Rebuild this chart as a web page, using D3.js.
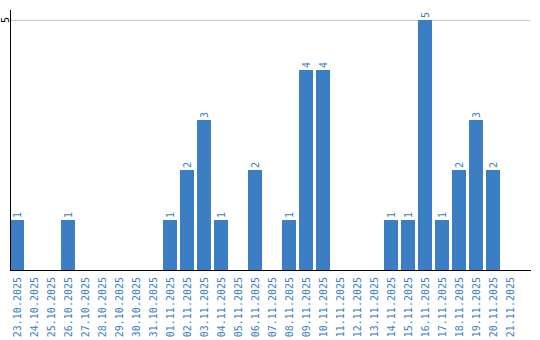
<!DOCTYPE html>
<html><head><meta charset="utf-8">
<script src="https://cdn.jsdelivr.net/npm/d3@7"></script>
<style>body{margin:0;background:#fff}svg{display:block}</style>
</head><body>
<script>
const dates = ["23.10.2025","24.10.2025","25.10.2025","26.10.2025","27.10.2025","28.10.2025","29.10.2025","30.10.2025","31.10.2025","01.11.2025","02.11.2025","03.11.2025","04.11.2025","05.11.2025","06.11.2025","07.11.2025","08.11.2025","09.11.2025","10.11.2025","11.11.2025","12.11.2025","13.11.2025","14.11.2025","15.11.2025","16.11.2025","17.11.2025","18.11.2025","19.11.2025","20.11.2025","21.11.2025"];
const counts = [1,0,0,1,0,0,0,0,0,1,2,3,1,0,2,0,1,4,4,0,0,0,1,1,5,1,2,3,2,0];
const yTicks = [5];

const W = 540, H = 340;
const mLeft = 10, mRight = 530, mTop = 10, base = 270;
const blue = "#3b7ec3";
const font = "DejaVu Sans Mono";
const svg = d3.select("body").append("svg").attr("width", W).attr("height", H);

const x = d3.scaleBand().domain(dates).range([mLeft, mLeft + 17*30 - 3]).paddingInner(3/17).paddingOuter(0);
const y = d3.scaleLinear().domain([0, 5]).range([base, 20]);

// gridlines
svg.selectAll("line.grid").data(yTicks).join("line")
  .attr("x1", mLeft).attr("x2", mRight)
  .attr("y1", d => y(d) + 0.5).attr("y2", d => y(d) + 0.5)
  .attr("stroke", "#c8c8c8").attr("stroke-width", 1);

const rows = dates.map((d,i)=>({d, v: counts[i]})).filter(o=>o.v>0);

// bars
svg.selectAll("rect.bar").data(rows).join("rect")
  .attr("x", o => x(o.d)).attr("width", x.bandwidth())
  .attr("y", o => y(o.v)).attr("height", o => base - y(o.v))
  .attr("fill", blue);

// value labels
svg.selectAll("text.val").data(rows).join("text")
  .attr("transform", o => `translate(${x(o.d) + x.bandwidth()/2},${y(o.v) - 2}) rotate(-90)`)
  .attr("dy", "0.35em")
  .attr("text-anchor", "start")
  .attr("font-family", font).attr("font-size", 10)
  .attr("fill", blue).text(o => o.v);

// x tick labels
svg.selectAll("text.xl").data(dates).join("text")
  .attr("transform", d => `translate(${x(d) + x.bandwidth()/2},${base + 7}) rotate(-90)`)
  .attr("dy", "0.35em")
  .attr("text-anchor", "end")
  .attr("font-family", font).attr("font-size", 10)
  .attr("fill", blue).text(d => d);

// y tick labels
svg.selectAll("text.yl").data(yTicks).join("text")
  .attr("transform", d => `translate(5,${y(d)}) rotate(-90)`)
  .attr("dy", "0.35em")
  .attr("text-anchor", "middle")
  .attr("font-family", font).attr("font-size", 10)
  .attr("fill", "#000").text(d => d);

// axes lines
svg.append("line").attr("x1", mLeft + 0.5).attr("x2", mLeft + 0.5).attr("y1", mTop).attr("y2", base + 1)
  .attr("stroke", "#000").attr("stroke-width", 1);
svg.append("line").attr("x1", mLeft).attr("x2", mRight + 1).attr("y1", base + 0.5).attr("y2", base + 0.5)
  .attr("stroke", "#000").attr("stroke-width", 1);
</script>
</body></html>
